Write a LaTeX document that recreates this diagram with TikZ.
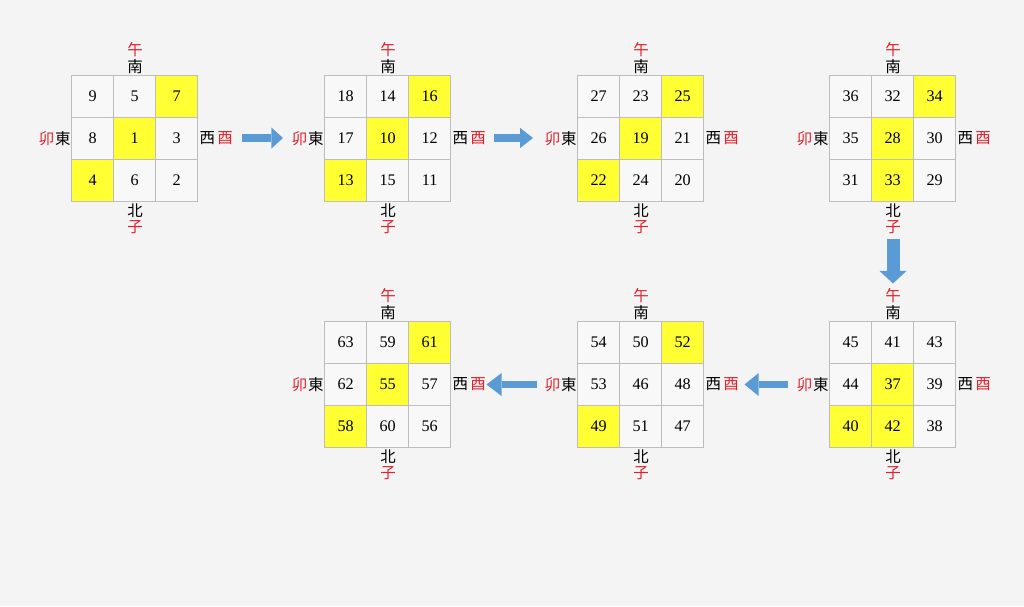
\documentclass[tikz,border=0pt]{standalone}
\usepackage{fontspec}
\setmainfont{Liberation Serif}
\newfontfamily\cjk{Noto Sans CJK JP}
\usetikzlibrary{positioning,calc,arrows.meta}

\definecolor{bgpaper}{HTML}{F4F4F4}
\definecolor{gridline}{HTML}{BDBDBD}
\definecolor{hl}{HTML}{FFFF33}
\definecolor{off}{HTML}{F8F8F8}
\definecolor{flowblue}{HTML}{5B9BD5}
\definecolor{zhired}{HTML}{E0202A}

\tikzset{
  cell/.style={draw=gridline, minimum size=1.05cm, inner sep=0pt, font=\fontsize{11.5}{13}\selectfont},
  frame/.style={minimum size=3.15cm, inner sep=0pt},
  dir/.style={inner sep=0pt, font=\cjk\fontsize{11}{13}\selectfont},
  zhi/.style={dir, text=zhired},
  flow/.style n args={3}{draw=flowblue, line width=#1, -{Triangle[width=#2, length=#3, line width=0pt]}},
}

% one 3x3 square: name, centre, cells as number/colour
\newcommand\jiugong[3]{%
  \node[frame] (#1) at (#2) {};
  \foreach \n/\c [count=\i from 0] in {#3} {
    \pgfmathtruncatemacro\row{\i/3}
    \pgfmathtruncatemacro\col{mod(\i,3)}
    \node[cell, fill=\c] (#1-\i) at ($(#1.north west)+(21+42*\col,21+42*\row)$) {\n};
  }
  \node[dir, above=0.6pt of #1.north] (#1-s) {南};
  \node[zhi, above=1.8pt of #1-s] (#1-wu) {午};
  \node[dir, below=1pt of #1.south] (#1-n) {北};
  \node[zhi, below=2pt of #1-n] (#1-zi) {子};
  \node[dir, left=0.6pt of #1.west] (#1-e) {東};
  \node[zhi, left=0.2pt of #1-e] (#1-mao) {卯};
  \node[dir, right=0.8pt of #1.east] (#1-w) {西};
  \node[zhi, right=1.2pt of #1-w] (#1-you) {酉};
}

\begin{document}
\begin{tikzpicture}[x=0.025cm, y=-0.025cm]
  \useasboundingbox[fill=bgpaper] (0,0) rectangle (1024,606);

  \jiugong{g1}{135,138.5}{9/off,5/off,7/hl,8/off,1/hl,3/off,4/hl,6/off,2/off}
  \jiugong{g2}{388,138.5}{18/off,14/off,16/hl,17/off,10/hl,12/off,13/hl,15/off,11/off}
  \jiugong{g3}{641,138.5}{27/off,23/off,25/hl,26/off,19/hl,21/off,22/hl,24/off,20/off}
  \jiugong{g4}{893,138.5}{36/off,32/off,34/hl,35/off,28/hl,30/off,31/off,33/hl,29/off}
  \jiugong{g5}{893,384.5}{45/off,41/off,43/off,44/off,37/hl,39/off,40/hl,42/hl,38/off}
  \jiugong{g6}{641,384.5}{54/off,50/off,52/hl,53/off,46/off,48/off,49/hl,51/off,47/off}
  \jiugong{g7}{388,384.5}{63/off,59/off,61/hl,62/off,55/hl,57/off,58/hl,60/off,56/off}

  % arrows between the squares
  \coordinate (a1-from) at (242,138);
  \coordinate (a1-to) at (283,138);
  \coordinate (a2-from) at (494,138);
  \coordinate (a2-to) at (533,138);
  \coordinate (a3-from) at (893,239);
  \coordinate (a3-to) at (893,283.5);
  \coordinate (a4-from) at (788,384.5);
  \coordinate (a4-to) at (744.5,384.5);
  \coordinate (a5-from) at (537,384.5);
  \coordinate (a5-to) at (486.5,384.5);

  \draw[flow={0.2cm}{0.525cm}{0.29cm}] (a1-from) -- (a1-to);
  \draw[flow={0.2cm}{0.5cm}{0.32cm}] (a2-from) -- (a2-to);
  \draw[flow={0.325cm}{0.675cm}{0.315cm}] (a3-from) -- (a3-to);
  \draw[flow={0.17cm}{0.57cm}{0.35cm}] (a4-from) -- (a4-to);
  \draw[flow={0.19cm}{0.575cm}{0.375cm}] (a5-from) -- (a5-to);
\end{tikzpicture}
\end{document}
